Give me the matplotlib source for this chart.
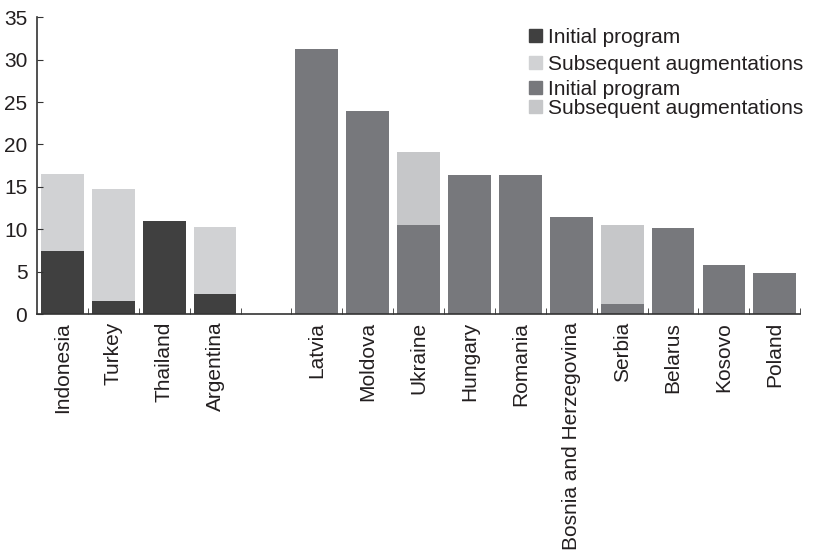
import matplotlib
matplotlib.use("Agg")
import matplotlib.pyplot as plt
from matplotlib.patches import Patch

plt.rcParams['font.family'] = ['Liberation Sans', 'DejaVu Sans']

# Asian / Latin American programs
group_a = ["Indonesia", "Turkey", "Thailand", "Argentina"]
group_a_initial = [7.5, 1.6, 11.0, 2.4]
group_a_augment = [9.0, 13.1, 0.0, 7.9]

# European programs
group_b = ["Latvia", "Moldova", "Ukraine", "Hungary", "Romania",
           "Bosnia and Herzegovina", "Serbia", "Belarus", "Kosovo", "Poland"]
group_b_initial = [31.2, 23.9, 10.5, 16.4, 16.4, 11.5, 1.2, 10.1, 5.8, 4.8]
group_b_augment = [0.0, 0.0, 8.6, 0.0, 0.0, 0.0, 9.3, 0.0, 0.0, 0.0]

legend_labels = ["Initial program", "Subsequent augmentations"]
yticks = [0, 5, 10, 15, 20, 25, 30, 35]

dark, light_a = "#404040", "#d1d2d4"
mid, light_b = "#77787c", "#c6c7c9"
text_col = "#231f20"

fig = plt.figure(figsize=(8.26, 5.55), dpi=100)
ax = fig.add_axes([0.0448, 0.434, 0.924, 0.535])

pos_a = list(range(len(group_a)))
pos_b = [len(group_a) + 1 + i for i in range(len(group_b))]
w = 0.84

ax.bar(pos_a, group_a_initial, width=w, color=dark)
ax.bar(pos_a, group_a_augment, width=w, bottom=group_a_initial, color=light_a)
ax.bar(pos_b, group_b_initial, width=w, color=mid)
ax.bar(pos_b, group_b_augment, width=w, bottom=group_b_initial, color=light_b)

n_slots = len(group_a) + 1 + len(group_b)
ax.set_xlim(-0.5, n_slots - 0.5)
ax.set_ylim(0, 35)
ax.set_yticks(yticks)

ax.set_xticks(pos_a + pos_b)
ax.set_xticklabels(group_a + group_b, rotation=90, va="top", ha="center")
ax.set_xticks([i + 0.5 for i in range(n_slots)], minor=True)

for s in ("top", "right"):
    ax.spines[s].set_visible(False)
for s in ("left", "bottom"):
    ax.spines[s].set_color("#333333")
    ax.spines[s].set_linewidth(1.2)

ax.tick_params(axis="x", which="major", length=0, pad=5.5, labelsize=15, labelcolor=text_col)
ax.tick_params(axis="x", which="minor", length=4, direction="in", color="#333333")
ax.tick_params(axis="y", length=4, direction="in", pad=7, labelsize=15,
               labelcolor=text_col, color="#333333")

common = dict(loc="upper left", frameon=False, fontsize=15, handlelength=0.6,
              handleheight=0.6, handletextpad=0.3, borderpad=0, labelcolor=text_col)
leg1 = ax.legend(handles=[Patch(color=dark), Patch(color=light_a)], labels=legend_labels,
                 bbox_to_anchor=(0.631, 1.0), labelspacing=0.4, **common)
ax.add_artist(leg1)
ax.legend(handles=[Patch(color=mid), Patch(color=light_b)], labels=legend_labels,
          bbox_to_anchor=(0.631, 0.824), labelspacing=0.0, **common)

fig.savefig("out.png", dpi=100)
